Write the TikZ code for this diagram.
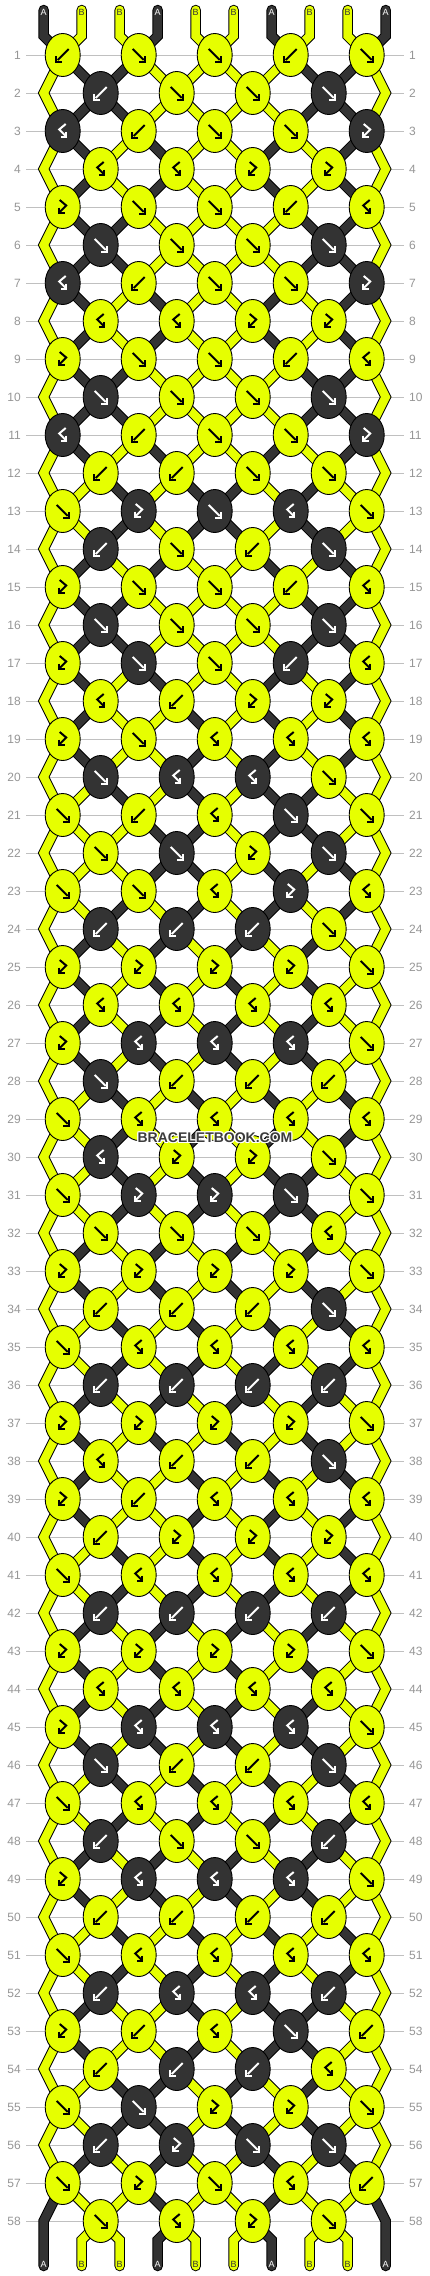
\documentclass[tikz,border=0pt]{standalone}
\usepackage{fontspec}
\setmainfont{Liberation Sans}
\usetikzlibrary{shapes.geometric}
\definecolor{yel}{RGB}{230,255,0}
\definecolor{drk}{RGB}{51,51,51}
\definecolor{linegray}{RGB}{192,192,192}
\definecolor{numgray}{RGB}{150,150,150}
\definecolor{wmgray}{RGB}{60,60,60}

\def\rowlist{%
{b,f,f,b,f},{b,f,f,f},{q,b,f,f,p},{q,q,p,p},{p,f,f,b,q},{f,f,f,f},%
{q,b,f,f,p},{q,q,p,p},{p,f,f,b,q},{f,f,f,f},{q,b,f,f,p},{b,b,f,f},%
{f,p,f,q,f},{b,f,b,f},{p,f,f,b,q},{f,f,f,f},{p,f,f,b,q},{q,b,p,p},%
{p,f,q,q,q},{f,q,q,f},{f,b,q,f,f},{f,f,p,f},{f,f,q,p,q},{b,b,b,f},%
{p,p,p,p,f},{q,q,q,q},{p,q,q,q,f},{f,b,b,b},{f,q,q,q,q},{q,p,p,f},%
{f,p,p,f,f},{f,f,f,q},{p,p,p,p,f},{b,b,b,f},{f,q,q,q,q},{b,b,b,b},%
{p,p,p,p,f},{q,b,b,f},{p,b,q,q,q},{b,p,p,p},{f,q,q,q,q},{b,b,b,b},%
{p,p,p,p,f},{q,q,q,q},{p,q,q,q,f},{f,b,b,f},{f,q,q,q,q},{b,f,f,b},%
{p,q,q,q,f},{b,b,b,b},{f,q,q,q,q},{b,q,q,b},{p,b,q,f,b},{b,b,b,q},%
{f,f,p,p,f},{b,p,f,f},{f,p,f,q,b},{f,q,p,f}}

\newcommand\seg[2]{\draw[segb] #2; \draw[segf,draw=#1] #2;}
\newcommand\knotglyph[3]{%
  \begin{scope}[shift={(#2.center)}]
  \if#1f\draw[glyph,draw=#3] (-6,-6) -- (5,5); \draw[glyph,draw=#3] (0.5,6.5) -- (6.5,6.5) -- (6.5,0.5);\fi
  \if#1b\draw[glyph,draw=#3] (6,-6) -- (-5,5); \draw[glyph,draw=#3] (-0.5,6.5) -- (-6.5,6.5) -- (-6.5,0.5);\fi
  \if#1p\draw[glyph,draw=#3] (-3,-7) -- (3.5,-1.5) -- (-3,5); \draw[glyph,draw=#3] (-3.5,0.5) -- (-3.5,6) -- (2,6);\fi
  \if#1q\draw[glyph,draw=#3] (3,-7) -- (-3.5,-1.5) -- (3,5); \draw[glyph,draw=#3] (3.5,0.5) -- (3.5,6) -- (-2,6);\fi
  \end{scope}}

\begin{document}
\begin{tikzpicture}[x=1pt,y=-1pt,
  segb/.style={line width=10.5pt,draw=black,line cap=round,line join=miter},
  segf/.style={line width=8.5pt,line cap=round,line join=miter},
  knot/.style={ellipse,draw=black,line width=0.9pt,minimum width=35pt,minimum height=43pt,inner sep=0pt},
  glyph/.style={line width=2pt,line cap=butt,line join=miter},
  rowline/.style={draw=linegray,line width=1pt},
  rownum/.style={text=numgray,font=\fontsize{12}{12}\selectfont,inner sep=0pt},
  endlab/.style={font=\fontsize{9}{9}\selectfont,inner sep=0pt},
  wm/.style={font=\fontsize{14}{14}\bfseries\selectfont,inner sep=0pt}
]
\useasboundingbox (0,0) rectangle (430,2276);
\fill[white] (0,0) rectangle (430,2276);

% named positions
\foreach \rn in {1,...,58}{
  \pgfmathsetmacro\yy{55+38*(\rn-1)}
  \foreach \cc in {0,...,8}{
    \coordinate (p-\rn-\cc) at ({62.7+38*\cc},\yy);
  }
  \coordinate (zl-\rn) at (43.7,\yy);
  \coordinate (zr-\rn) at (385.7,\yy);
}
\foreach \i in {0,...,9}{
  \coordinate (top-\i) at ({43.7+38*\i},10);
  \coordinate (tb-\i) at ({43.7+38*\i},36);
  \coordinate (bb-\i) at ({43.7+38*\i},2240);
  \coordinate (bot-\i) at ({43.7+38*\i},2266);
}

% row lines and numbers
\foreach \rn in {1,...,58}{
  \pgfmathsetmacro\yy{55+38*(\rn-1)}
  \node[rownum,anchor=east] (nl-\rn) at (21,\yy) {\rn};
  \node[rownum,anchor=west] (nr-\rn) at (409,\yy) {\rn};
  \draw[rowline] (26,\yy) -- (404,\yy);
}

% initial strands A B B A B B A B B A
\foreach \i/\v in {0/1,1/0,2/0,3/1,4/0,5/0,6/1,7/0,8/0,9/1}{
  \expandafter\xdef\csname st\i\endcsname{\v}}

\foreach \i in {0,...,9}{
  \pgfmathtruncatemacro\kc{2*int(\i/2)}
  \ifnum\csname st\i\endcsname=1 \def\sc{drk}\else\def\sc{yel}\fi
  \seg{\sc}{(top-\i) -- (tb-\i) -- (p-1-\kc)}
}

% pass 1: simulate, store knots, draw strand segments
\foreach \rw [count=\rn] in \rowlist {
  \pgfmathtruncatemacro\odd{mod(\rn,2)}
  \pgfmathtruncatemacro\nx{\rn+1}
  \pgfmathtruncatemacro\nxx{\rn+2}
  \foreach \ty [count=\kn from 0] in \rw {
    \ifnum\odd=1 \pgfmathtruncatemacro\cc{2*\kn}\else\pgfmathtruncatemacro\cc{2*\kn+1}\fi
    \pgfmathtruncatemacro\ccr{\cc+1}
    \pgfmathtruncatemacro\ccl{\cc-1}
    \edef\lft{\csname st\cc\endcsname}
    \edef\rgt{\csname st\ccr\endcsname}
    \if\ty f\edef\kcol{\lft}\edef\outl{\rgt}\edef\outr{\lft}\fi
    \if\ty b\edef\kcol{\rgt}\edef\outl{\rgt}\edef\outr{\lft}\fi
    \if\ty p\edef\kcol{\lft}\edef\outl{\lft}\edef\outr{\rgt}\fi
    \if\ty q\edef\kcol{\rgt}\edef\outl{\lft}\edef\outr{\rgt}\fi
    \expandafter\xdef\csname st\cc\endcsname{\outl}
    \expandafter\xdef\csname st\ccr\endcsname{\outr}
    \expandafter\xdef\csname kc-\rn-\cc\endcsname{\kcol}
    \expandafter\xdef\csname kt-\rn-\cc\endcsname{\ty}
    \ifnum\outl=1 \def\lcol{drk}\else\def\lcol{yel}\fi
    \ifnum\outr=1 \def\rcol{drk}\else\def\rcol{yel}\fi
    \ifnum\rn<58
      \ifnum\cc=0
        \ifnum\rn<57
          \seg{\lcol}{(p-\rn-0) -- (zl-\nx) -- (p-\nxx-0)}
        \else
          \seg{\lcol}{(p-\rn-0) -- (zl-\nx) -- (bot-0)}
        \fi
      \else
        \seg{\lcol}{(p-\rn-\cc) -- (p-\nx-\ccl)}
      \fi
      \ifnum\cc=8
        \ifnum\rn<57
          \seg{\rcol}{(p-\rn-8) -- (zr-\nx) -- (p-\nxx-8)}
        \else
          \seg{\rcol}{(p-\rn-8) -- (zr-\nx) -- (bot-9)}
        \fi
      \else
        \seg{\rcol}{(p-\rn-\cc) -- (p-\nx-\ccr)}
      \fi
    \else
      \seg{\lcol}{(p-58-\cc) -- (bb-\cc) -- (bot-\cc)}
      \seg{\rcol}{(p-58-\cc) -- (bb-\ccr) -- (bot-\ccr)}
    \fi
  }
}

% end labels
\foreach \i/\v in {0/1,1/0,2/0,3/1,4/0,5/0,6/1,7/0,8/0,9/1}{
  \ifnum\v=1 \def\lc{white}\def\lt{A}\else\def\lc{drk}\def\lt{B}\fi
  \node[endlab,text=\lc] (tl-\i) at ({43.7+38*\i},12.7) {\lt};
}
\foreach \i in {0,...,9}{
  \ifnum\csname st\i\endcsname=1 \def\lc{white}\def\lt{A}\else\def\lc{drk}\def\lt{B}\fi
  \node[endlab,text=\lc] (bl-\i) at ({43.7+38*\i},2264) {\lt};
}

% pass 2: knots
\foreach \rn in {1,...,58}{
  \pgfmathtruncatemacro\odd{mod(\rn,2)}
  \ifnum\odd=1 \def\cols{0,2,4,6,8}\else\def\cols{1,3,5,7}\fi
  \foreach \cc in \cols {
    \edef\ty{\csname kt-\rn-\cc\endcsname}
    \ifnum\csname kc-\rn-\cc\endcsname=1 \def\kfill{drk}\def\gcol{white}\else\def\kfill{yel}\def\gcol{black}\fi
    \node[knot,fill=\kfill] (k-\rn-\cc) at (p-\rn-\cc) {};
    \knotglyph{\ty}{k-\rn-\cc}{\gcol}
  }
}

% watermark
\foreach \dx/\dy [count=\h] in {-1/-1,0/-1,1/-1,-1/0,1/0,-1/1,0/1,1/1}{
  \node[wm,text=white] (wmh-\h) at ({215+\dx},{1138+\dy}) {BRACELETBOOK.COM};
}
\node[wm,text=wmgray] (wm) at (215,1138) {BRACELETBOOK.COM};
\end{tikzpicture}
\end{document}
